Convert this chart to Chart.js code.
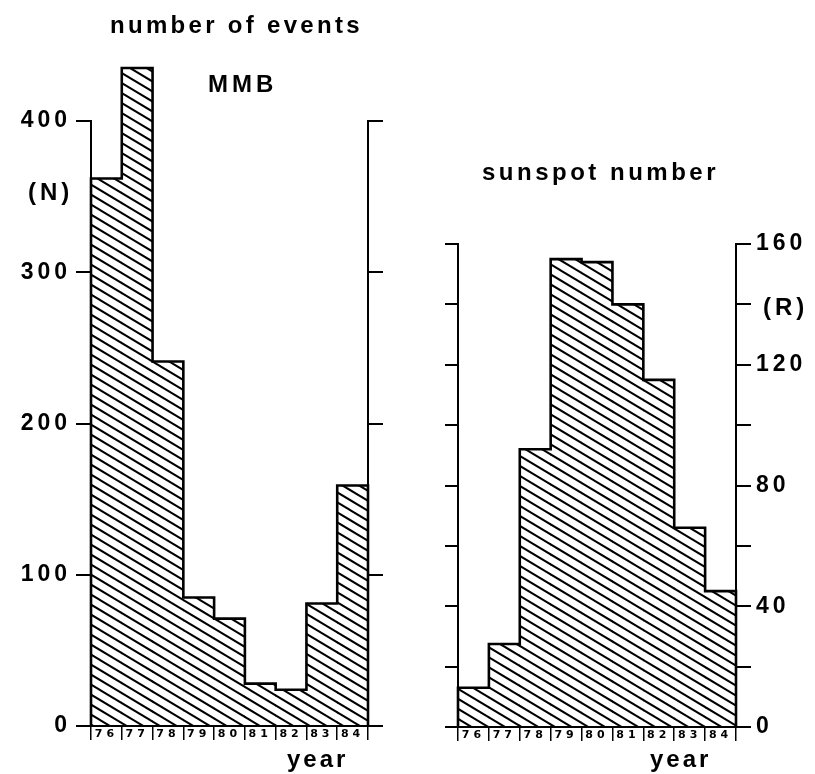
<!DOCTYPE html>
<html><head><meta charset="utf-8">
<script src="https://cdn.jsdelivr.net/npm/chart.js@4.4.0/dist/chart.umd.min.js"></script>
<style>
html,body{margin:0;padding:0;background:#fff;width:815px;height:774px;overflow:hidden}
canvas{position:absolute;top:0}
#left{left:0}
#right{left:410px}
</style></head><body>
<canvas id="left" width="410" height="774"></canvas>
<canvas id="right" width="405" height="774"></canvas>
<script>
// ---- data ----
const years = ['76','77','78','79','80','81','82','83','84'];
const mmbEvents = [362, 435, 241, 85, 71, 28, 24, 81, 159];
const sunspotR = [13, 27.5, 92, 155, 154, 140, 115, 66, 45];
const eventTicks = [0, 100, 200, 300, 400];
const sunspotTicks = [0, 40, 80, 120, 160];
const sunspotMinorStep = 20;

const FONT = "'Liberation Sans', Arial, Helvetica, sans-serif";

function makeHatch() {
  const t = document.createElement('canvas');
  t.width = 50; t.height = 30;
  const c = t.getContext('2d');
  c.strokeStyle = '#000';
  c.lineWidth = 2;
  for (let k = -60; k <= 60; k += 10) {
    c.beginPath();
    c.moveTo(-10, k - 6);
    c.lineTo(60, k + 36);
    c.stroke();
  }
  return c.createPattern(t, 'repeat');
}

const spacingPlugin = {
  id: 'spacing',
  beforeUpdate(chart) { chart.ctx.letterSpacing = '4px'; },
  beforeDraw(chart) { chart.ctx.letterSpacing = '4px'; }
};

const outlinePlugin = {
  id: 'outline',
  afterDatasetsDraw(chart) {
    const meta = chart.getDatasetMeta(0);
    const els = meta.data.map(e => e.getProps(['x', 'y', 'base', 'width'], true));
    if (!els.length) return;
    const ctx = chart.ctx;
    ctx.save();
    ctx.strokeStyle = '#000';
    ctx.lineWidth = 2.6;
    ctx.lineJoin = 'miter';
    ctx.beginPath();
    const l0 = els[0].x - els[0].width / 2;
    ctx.moveTo(l0, els[0].base);
    ctx.lineTo(l0, els[0].y);
    els.forEach((e, i) => {
      const r = e.x + e.width / 2;
      ctx.lineTo(r, e.y);
      if (i < els.length - 1) ctx.lineTo(r, els[i + 1].y);
      else ctx.lineTo(r, e.base);
    });
    ctx.stroke();
    ctx.restore();
  }
};

function textPlugin(items, offsetX) {
  return {
    id: 'texts',
    afterDraw(chart) {
      const ctx = chart.ctx;
      ctx.save();
      ctx.fillStyle = '#000';
      ctx.textAlign = 'left';
      ctx.textBaseline = 'alphabetic';
      items.forEach(it => {
        ctx.font = 'bold ' + it.size + 'px ' + FONT;
        ctx.letterSpacing = it.sp + 'px';
        ctx.fillText(it.text, it.x - offsetX, it.y);
      });
      ctx.restore();
    }
  };
}

function yAxis(pos, min, max, step, tickLen, width, labelFn) {
  return {
    type: 'linear', position: pos, min: min, max: max,
    ticks: {
      stepSize: step, color: '#000', padding: 5,
      font: { family: FONT, size: 23, weight: 'bold' },
      callback: labelFn
    },
    grid: { drawOnChartArea: false, drawTicks: true, tickLength: tickLen, color: '#000', lineWidth: 2 },
    border: { display: true, color: '#000', width: 2 },
    afterFit: s => { s.width = width; }
  };
}

function xAxis(height) {
  return {
    type: 'category', offset: true,
    ticks: {
      color: '#000', padding: -12, autoSkip: false, maxRotation: 0,
      font: { family: "'DejaVu Sans', " + FONT, size: 11, weight: 'bold' }
    },
    grid: { offset: true, drawOnChartArea: false, drawTicks: true, tickLength: 14, color: '#000', lineWidth: 1.5 },
    border: { display: true, color: '#000', width: 2 },
    afterFit: s => { s.height = height; }
  };
}

const hatchL = makeHatch();
const hatchR = makeHatch();

new Chart(document.getElementById('left'), {
  type: 'bar',
  data: {
    labels: years,
    datasets: [{
      data: mmbEvents, backgroundColor: hatchL, borderWidth: 0,
      categoryPercentage: 1, barPercentage: 1, clip: false, yAxisID: 'y'
    }]
  },
  options: {
    responsive: false, animation: false, devicePixelRatio: 1,
    layout: { padding: { top: 121, left: 0, right: 0, bottom: 0 } },
    plugins: { legend: { display: false }, tooltip: { enabled: false }, title: { display: false } },
    scales: {
      x: xAxis(48),
      y: yAxis('left', eventTicks[0], eventTicks[eventTicks.length - 1], eventTicks[1] - eventTicks[0], 15, 91,
        v => eventTicks.includes(v) ? String(v) : ''),
      y2: yAxis('right', eventTicks[0], eventTicks[eventTicks.length - 1], eventTicks[1] - eventTicks[0], 15, 42,
        () => '')
    }
  },
  plugins: [spacingPlugin, outlinePlugin, textPlugin([
    { text: 'number of events', x: 110, y: 33, size: 24, sp: 3.3 },
    { text: 'MMB', x: 208, y: 92, size: 24, sp: 4 },
    { text: '(N)', x: 28, y: 200, size: 24, sp: 4 },
    { text: 'year', x: 287, y: 767, size: 24, sp: 3 }
  ], 0)]
});

new Chart(document.getElementById('right'), {
  type: 'bar',
  data: {
    labels: years,
    datasets: [{
      data: sunspotR, backgroundColor: hatchR, borderWidth: 0,
      categoryPercentage: 1, barPercentage: 1, clip: false, yAxisID: 'y2'
    }]
  },
  options: {
    responsive: false, animation: false, devicePixelRatio: 1,
    layout: { padding: { top: 244, left: 0, right: 0, bottom: 0 } },
    plugins: { legend: { display: false }, tooltip: { enabled: false }, title: { display: false } },
    scales: {
      x: xAxis(47),
      y: yAxis('left', sunspotTicks[0], sunspotTicks[sunspotTicks.length - 1], sunspotMinorStep, 13, 48,
        () => ''),
      y2: yAxis('right', sunspotTicks[0], sunspotTicks[sunspotTicks.length - 1], sunspotMinorStep, 15, 79,
        v => sunspotTicks.includes(v) ? String(v) : '')
    }
  },
  plugins: [spacingPlugin, outlinePlugin, textPlugin([
    { text: 'sunspot number', x: 482, y: 180, size: 24, sp: 3.5 },
    { text: '(R)', x: 763, y: 315, size: 24, sp: 4 },
    { text: 'year', x: 650, y: 767, size: 24, sp: 3 }
  ], 410)]
});
</script>
</body></html>
